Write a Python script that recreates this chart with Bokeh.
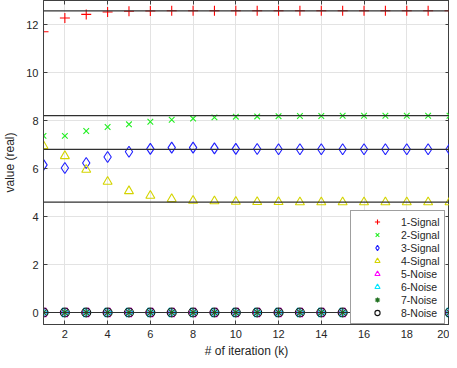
import numpy as np
from bokeh.plotting import figure
from bokeh.models import Span, Legend, LegendItem, LinearAxis, CustomJSTickFormatter, FixedTicker, Range1d
from bokeh.embed import file_html
from bokeh.resources import INLINE

iterations = list(range(1, 21))
signal_1 = [11.70, 12.27, 12.42, 12.52, 12.55, 12.56, 12.57, 12.57, 12.57, 12.57,
            12.57, 12.57, 12.57, 12.57, 12.57, 12.57, 12.57, 12.57, 12.57, 12.57]
signal_2 = [7.36, 7.36, 7.56, 7.73, 7.84, 7.95, 8.03, 8.08, 8.13, 8.16,
            8.17, 8.18, 8.19, 8.19, 8.20, 8.20, 8.20, 8.20, 8.20, 8.20]
signal_3 = [6.15, 6.02, 6.23, 6.48, 6.70, 6.82, 6.87, 6.87, 6.84, 6.82,
            6.81, 6.80, 6.80, 6.80, 6.80, 6.80, 6.80, 6.80, 6.80, 6.80]
signal_4 = [6.94, 6.52, 5.95, 5.45, 5.06, 4.87, 4.73, 4.66, 4.64, 4.62,
            4.61, 4.61, 4.60, 4.60, 4.60, 4.60, 4.60, 4.60, 4.60, 4.60]
noise_5 = [0.0] * 20
noise_6 = [0.0] * 20
noise_7 = [0.0] * 20
noise_8 = [0.0] * 20
true_values = [12.57, 8.20, 6.80, 4.60, 0.0]

x_ticks = [2, 4, 6, 8, 10, 12, 14, 16, 18, 20]
y_ticks = [0, 2, 4, 6, 8, 10, 12]

FONT = "Liberation Sans"
TXT = "#262626"

p = figure(width=449, height=360, output_backend="svg", toolbar_location=None,
           x_range=Range1d(1, 20), y_range=Range1d(-0.5, 13.0),
           min_border_left=35, min_border_right=0, min_border_top=0, min_border_bottom=33)
p.outline_line_color = "#404040"
p.outline_line_width = 1
p.background_fill_color = "white"

for ax in (p.xaxis[0], p.yaxis[0]):
    ax.major_tick_in = 4
    ax.major_tick_out = 0
    ax.minor_tick_line_color = None
    ax.axis_line_color = "#404040"
    ax.major_tick_line_color = "#404040"
    ax.major_label_text_font = FONT
    ax.major_label_text_font_size = "11px"
    ax.major_label_text_color = TXT
    ax.axis_label_text_font = FONT
    ax.axis_label_text_font_size = "12px"
    ax.axis_label_text_font_style = "normal"
    ax.axis_label_text_color = TXT
p.xaxis[0].ticker = FixedTicker(ticks=x_ticks)
p.yaxis[0].ticker = FixedTicker(ticks=y_ticks)
p.xaxis[0].axis_label = "# of iteration (k)"
p.yaxis[0].axis_label = "value (real)"
p.xaxis[0].major_label_standoff = 5
p.yaxis[0].major_label_standoff = 5
p.xaxis[0].axis_label_standoff = 3
p.yaxis[0].axis_label_standoff = 6

blank = CustomJSTickFormatter(code="return ''")
top = LinearAxis(ticker=FixedTicker(ticks=x_ticks), formatter=blank, major_tick_in=4,
                 major_tick_out=0, minor_tick_line_color=None, axis_line_color="#404040",
                 major_tick_line_color="#404040", major_label_standoff=0)
right = LinearAxis(ticker=FixedTicker(ticks=y_ticks), formatter=blank, major_tick_in=4,
                   major_tick_out=0, minor_tick_line_color=None, axis_line_color="#404040",
                   major_tick_line_color="#404040", major_label_standoff=0)
p.add_layout(top, "above")
p.add_layout(right, "right")

p.xgrid.ticker = FixedTicker(ticks=x_ticks)
p.ygrid.ticker = FixedTicker(ticks=y_ticks)
p.xgrid.grid_line_color = "#e3e3e3"
p.ygrid.grid_line_color = "#e3e3e3"

for v in true_values:
    p.add_layout(Span(location=v, dimension="width", line_color="#303030", line_width=1.2))

series = [
    ("1-Signal", signal_1, "cross", "#ff0000", 10, 0.0),
    ("2-Signal", signal_2, "x", "#22ee22", 8, 0.0),
    ("3-Signal", signal_3, "diamond", "#2020ff", 11, 0.0),
    ("4-Signal", signal_4, "triangle", "#d4d400", 9, 0.0),
    ("5-Noise", noise_5, "triangle", "#ff00ff", 9, np.pi / 2),
    ("6-Noise", noise_6, "triangle", "#00e5ff", 9, -np.pi / 2),
    ("7-Noise", noise_7, "asterisk", "#207020", 9, 0.0),
    ("8-Noise", noise_8, "circle", "#111111", 9, 0.0),
]
items = []
for label, ys, marker, color, size, angle in series:
    r = p.scatter(iterations, ys, marker=marker, size=size, angle=angle,
                  line_color=color, fill_color=None, line_width=1.1)
    items.append(LegendItem(label=label, renderers=[r]))

legend = Legend(items=items, location=(307, 0), margin=0, padding=4, spacing=0,
                glyph_width=44, glyph_height=13, label_height=13, label_standoff=2,
                label_text_font=FONT, label_text_font_size="10.5px", label_text_color=TXT,
                border_line_color="#404040", border_line_width=1,
                background_fill_color="white", background_fill_alpha=1.0)
p.add_layout(legend, "center")

open("out.html", "w").write(file_html(p, INLINE))
